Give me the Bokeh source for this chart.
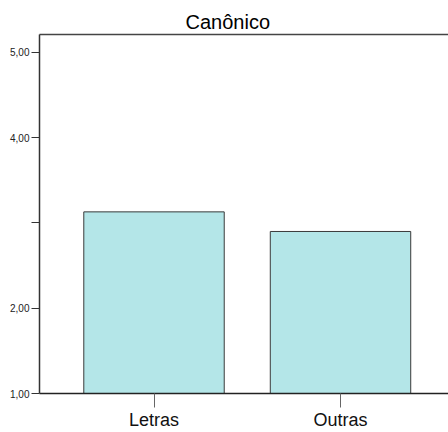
from bokeh.plotting import figure
from bokeh.models import Range1d, FixedTicker, LinearAxis, ColumnDataSource
from bokeh.embed import file_html
from bokeh.resources import INLINE

categories = ["Letras", "Outras"]
values = [3.13, 2.90]
ytick_values = [1, 2, 3, 4, 5]
ytick_labels = ["1,00", "2,00", "", "4,00", "5,00"]

xpos = list(range(len(categories)))
src = ColumnDataSource(dict(x=xpos, top=values, cat=categories))

p = figure(width=448, height=432, output_backend="svg", toolbar_location=None,
           x_range=Range1d(-0.614, 1.579), y_range=Range1d(1, 5.21),
           x_axis_location=None, y_axis_location=None,
           min_border_left=39, min_border_right=0, min_border_top=34, min_border_bottom=39,
           title="Canônico")
p.title.align = "left"
p.title.text_font = "Liberation Sans"
p.title.text_font_size = "20px"
p.title.text_font_style = "normal"
p.title.text_color = "#000000"
p.title.offset = 146
p.title.standoff = 4
p.outline_line_color = None
p.xgrid.visible = False
p.ygrid.visible = False

p.vbar(x="x", top="top", bottom=1, width=0.753, source=src,
       fill_color="#B4E6E8", line_color="#3a3a3a", line_width=1)

# top frame line
top_axis = LinearAxis(ticker=FixedTicker(ticks=[]))
top_axis.axis_line_color = "#444444"
top_axis.axis_line_width = 1.5
top_axis.major_tick_line_color = None
top_axis.minor_tick_line_color = None
top_axis.major_label_text_font_size = "0px"
top_axis.major_label_standoff = 0
p.add_layout(top_axis, "above")

yax = LinearAxis(ticker=FixedTicker(ticks=ytick_values))
yax.major_label_overrides = {v: l for v, l in zip(ytick_values, ytick_labels)}
yax.major_tick_out = 8
yax.major_tick_in = 0
yax.minor_tick_line_color = None
yax.axis_line_color = "#333333"
yax.axis_line_width = 1.5
yax.major_tick_line_color = "#333333"
yax.major_label_text_font = "Liberation Sans"
yax.major_label_text_font_size = "10px"
yax.major_label_text_color = "#222222"
yax.major_label_standoff = 2
p.add_layout(yax, "left")

xax = LinearAxis(ticker=FixedTicker(ticks=xpos))
xax.major_label_overrides = {i: c for i, c in zip(xpos, categories)}
xax.major_tick_out = 14
xax.major_tick_in = 0
xax.minor_tick_line_color = None
xax.axis_line_color = "#222222"
xax.axis_line_width = 1.5
xax.major_tick_line_color = "#666666"
xax.major_label_text_font = "Liberation Sans"
xax.major_label_text_font_size = "18px"
xax.major_label_text_color = "#111111"
xax.major_label_standoff = 2
p.add_layout(xax, "below")

open("out.html", "w").write(file_html(p, INLINE))
